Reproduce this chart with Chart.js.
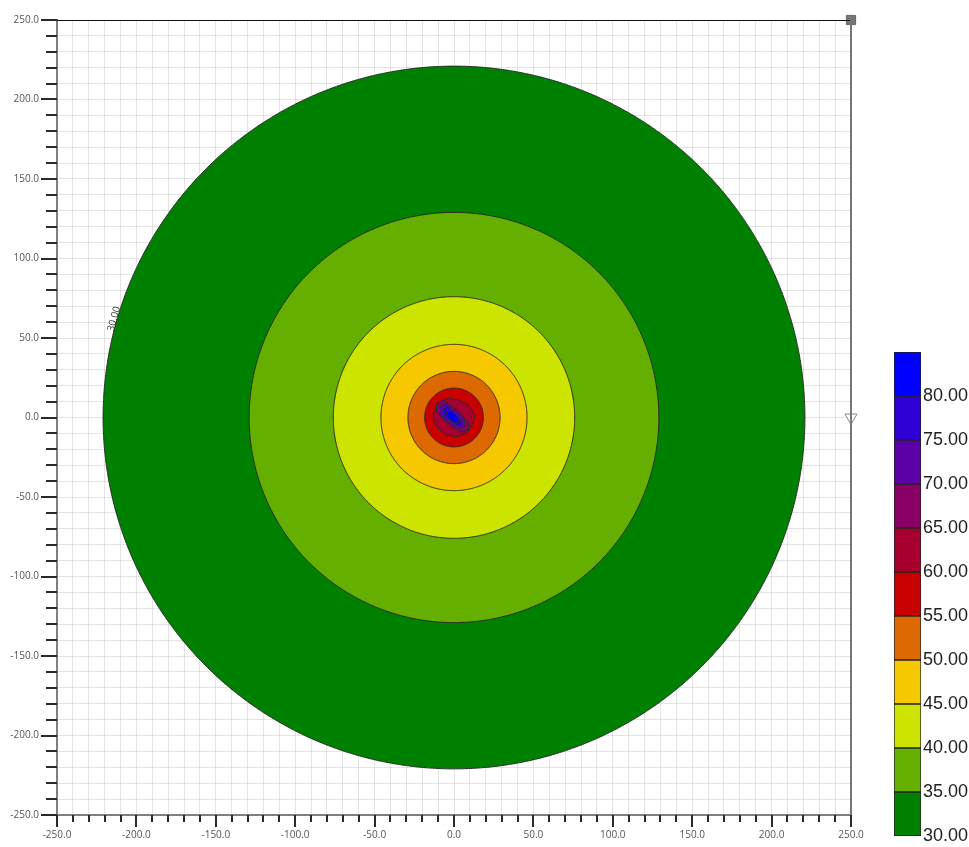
<!DOCTYPE html>
<html>
<head>
<meta charset="utf-8">
<script src="https://cdn.jsdelivr.net/npm/chart.js@4.4.0/dist/chart.umd.min.js"></script>
<style>
  html, body { margin: 0; padding: 0; background: #fff; }
  #wrap { position: relative; width: 969px; height: 847px; overflow: hidden; }
  #contourChart { position: absolute; left: 0; top: 0; }
  #legendChart { position: absolute; left: 880px; top: 0; }
</style>
</head>
<body>
<div id="wrap">
  <canvas id="contourChart" width="969" height="847" style="width:969px;height:847px"></canvas>
  <canvas id="legendChart" width="89" height="870" style="width:89px;height:870px"></canvas>
</div>
<script>
// contour levels and band colours (band i = levels[i]..levels[i+1])
const levels = [30, 35, 40, 45, 50, 55, 60, 65, 70, 75, 80, 85];
const bandColors = [
  "#008000", "#64af00", "#cde400", "#f5c800", "#dc6a00", "#c80000",
  "#a8002e", "#880066", "#5c00a8", "#2e00d4", "#0000ff",
];

// outer contours are near-circular: level -> radius (data units)
const circleLevels = [30, 35, 40, 45, 50, 55];
const circleRadii = [221, 129, 76, 46, 29, 18.5];

const contour60 = [[-13, 3], [-10, 9], [-4, 12], [3, 11], [9, 8], [13, 2], [12, -4], [8, -10], [2, -12], [-5, -11], [-11, -6], [-13, -1]];
const contour65 = [[-11, 9], [-7, 11], [-2, 8], [4, 3], [9, -3], [9, -8], [4, -9], [-1, -6], [-7, -1], [-11, 4]];
const contour70 = [[-9, 7], [-5, 9], [0, 5], [6, 0], [7, -5], [5, -7], [1, -6], [-5, -2], [-9, 2]];
const contour75 = [[-7, 5], [-4, 7], [0, 3], [4, -1], [5, -5], [2, -5], [-2, -2], [-6, 1]];
const contour80 = [[-5, 3], [-2, 4], [1, 2], [3, -1], [3, -3], [0, -3], [-3, -1]];
const polygonLevels = [80, 75, 70, 65, 60];
const polygons = [contour80, contour75, contour70, contour65, contour60];

// axis range
const axisMin = -250;
const axisMax = 250;
const minorStep = 10;
const majorStep = 50;

// label on the outer contour
const contourLabel = { text: "30.00", x: -214, y: 62, angle: -74 };

function colorFor(level) {
  return bandColors[levels.indexOf(level)];
}

// outline of a circular contour of radius r around the origin
function circleOutline(r) {
  const pts = [];
  const n = 240;
  for (let k = 0; k <= n; k++) {
    const a = (k / n) * 2 * Math.PI;
    pts.push({ x: r * Math.cos(a), y: r * Math.sin(a) });
  }
  return pts;
}

function areaSet(data, color) {
  return {
    type: "line",
    data,
    fill: "shape",
    backgroundColor: color,
    borderColor: "#2a2a2a",
    borderWidth: 1,
    pointRadius: 0,
    tension: 0.001, // avoids the fast path that collapses same-x points
  };
}

function buildDatasets() {
  const sets = [];
  // markers on the right border (drawn on top)
  sets.push({
    type: "scatter",
    data: [{ x: axisMax, y: axisMax }],
    pointStyle: "rect",
    pointRadius: 6.5,
    backgroundColor: "#777",
    borderColor: "#666",
    borderWidth: 1,
    clip: false,
  });
  sets.push({
    type: "scatter",
    data: [{ x: axisMax, y: 0 }],
    pointStyle: "triangle",
    rotation: 180,
    pointRadius: 7,
    backgroundColor: "#fff",
    borderColor: "#888",
    borderWidth: 1,
    clip: false,
  });
  // inner polygons, smallest first so it ends up on top
  polygons.forEach((pts, i) => {
    const data = pts.map((p) => ({ x: p[0], y: p[1] }));
    data.push({ x: pts[0][0], y: pts[0][1] });
    sets.push(areaSet(data, colorFor(polygonLevels[i])));
  });
  // circular contours, inner to outer
  for (let i = circleLevels.length - 1; i >= 0; i--) {
    sets.push(areaSet(circleOutline(circleRadii[i]), colorFor(circleLevels[i])));
  }
  return sets;
}

// tick marks of two lengths, frame, and the contour label
const axisDecor = {
  id: "axisDecor",
  afterDraw(chart) {
    const { ctx, chartArea: a, scales } = chart;
    ctx.save();
    ctx.strokeStyle = "#2a2a2a";
    ctx.lineWidth = 2;
    scales.x.ticks.forEach((t) => {
      const px = Math.round(scales.x.getPixelForValue(t.value));
      const len = t.value % majorStep === 0 ? 12 : 7;
      ctx.beginPath();
      ctx.moveTo(px, a.bottom);
      ctx.lineTo(px, a.bottom + len);
      ctx.stroke();
    });
    scales.y.ticks.forEach((t) => {
      const py = Math.round(scales.y.getPixelForValue(t.value));
      const len = t.value % majorStep === 0 ? 16 : 11;
      ctx.beginPath();
      ctx.moveTo(a.left, py);
      ctx.lineTo(a.left - len, py);
      ctx.stroke();
    });
    // top and right frame
    ctx.lineWidth = 1;
    ctx.strokeStyle = "#111";
    ctx.beginPath();
    ctx.moveTo(a.left, a.top + 0.5);
    ctx.lineTo(a.right, a.top + 0.5);
    ctx.stroke();
    ctx.lineWidth = 2;
    ctx.strokeStyle = "#777";
    ctx.beginPath();
    ctx.moveTo(a.right, a.top);
    ctx.lineTo(a.right, a.bottom);
    ctx.stroke();
    // rotated contour label
    const lx = scales.x.getPixelForValue(contourLabel.x);
    const ly = scales.y.getPixelForValue(contourLabel.y);
    ctx.translate(lx, ly);
    ctx.rotate((contourLabel.angle * Math.PI) / 180);
    ctx.fillStyle = "#333";
    ctx.font = "10px 'Open Sans'";
    ctx.textAlign = "center";
    ctx.textBaseline = "middle";
    ctx.fillText(contourLabel.text, 0, 0);
    ctx.restore();
  },
};

function axisOptions(isX) {
  return {
    type: "linear",
    min: axisMin,
    max: axisMax,
    z: 1,
    grid: {
      color: "rgba(170,170,170,0.32)",
      lineWidth: 1,
      drawTicks: false,
    },
    border: { display: true, color: "#808080", width: 2 },
    ticks: {
      stepSize: minorStep,
      autoSkip: false,
      maxRotation: 0,
      minRotation: 0,
      padding: isX ? 14 : 18,
      color: "#555",
      font: { family: "'Open Sans'", size: 10 },
      callback: (v) => (v % majorStep === 0 ? v.toFixed(1) : ""),
    },
    afterFit: (s) => {
      if (isX) {
        s.height = 32;
      } else {
        s.width = 57;
        s.paddingTop = 0; // don't let the label padding push the plot down
        s.paddingBottom = 0;
      }
    },
  };
}

function initContourChart() {
  new Chart(document.getElementById("contourChart"), {
    type: "scatter",
    data: { datasets: buildDatasets() },
    options: {
      responsive: false,
      animation: false,
      events: [],
      layout: { autoPadding: false, padding: { top: 20, right: 118, left: 0, bottom: 0 } },
      plugins: { legend: { display: false }, tooltip: { enabled: false } },
      scales: { x: axisOptions(true), y: axisOptions(false) },
    },
    plugins: [axisDecor],
  });
}

function initLegendChart() {
  const datasets = bandColors.map((c, i) => ({
    data: [[levels[i], levels[i + 1]]],
    backgroundColor: c,
    borderColor: "#222",
    borderWidth: 1,
    borderSkipped: false,
    barPercentage: 1,
    categoryPercentage: 1,
    grouped: false,
  }));
  new Chart(document.getElementById("legendChart"), {
    type: "bar",
    data: { labels: [""], datasets },
    options: {
      responsive: false,
      animation: false,
      events: [],
      layout: { padding: { left: 14, top: 352, bottom: 34, right: 0 } },
      plugins: { legend: { display: false }, tooltip: { enabled: false } },
      scales: {
        x: { display: false },
        y: {
          position: "right",
          min: levels[0],
          max: levels[levels.length - 1],
          grid: { display: false, drawTicks: false },
          border: { display: false },
          ticks: {
            stepSize: 5,
            padding: 2,
            color: "#222",
            font: { family: "'Liberation Sans'", size: 18 },
            callback: (v) => (v === levels[levels.length - 1] ? "" : v.toFixed(2)),
          },
          afterFit: (s) => {
            s.width = 48;
          },
        },
      },
    },
  });
}

initContourChart();
initLegendChart();
</script>
</body>
</html>
